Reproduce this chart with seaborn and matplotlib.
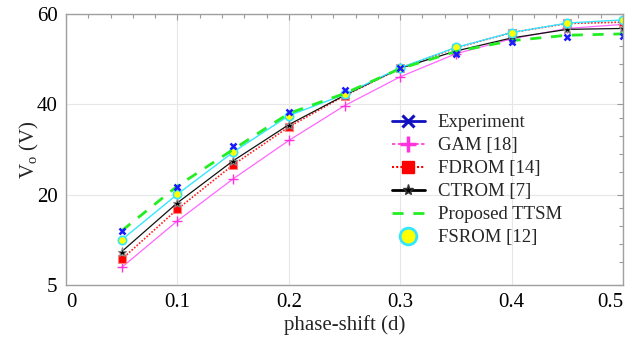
import numpy as np
import pandas as pd
import matplotlib
matplotlib.use("Agg")
import matplotlib.pyplot as plt
from matplotlib.lines import Line2D
from matplotlib.ticker import FixedLocator
import seaborn as sns

# phase-shift values and output voltage per model
phase_shift = [0.05, 0.10, 0.15, 0.20, 0.25, 0.30, 0.35, 0.40, 0.45, 0.50]
experiment = [12.0, 21.7, 30.8, 38.2, 43.1, 48.0, 51.2, 53.8, 54.8, 55.2]
gam = [3.9, 14.2, 23.5, 32.0, 39.7, 46.1, 51.2, 54.5, 56.8, 57.7]
fdrom = [5.7, 16.8, 26.6, 35.0, 41.9, 48.0, 52.5, 55.9, 57.9, 58.2]
ctrom = [7.4, 18.2, 27.5, 35.5, 42.0, 48.0, 51.8, 54.7, 56.6, 56.8]
ttsm = [12.0, 21.9, 30.0, 38.0, 42.4, 47.9, 51.7, 54.1, 55.3, 55.6]
fsrom = [10.0, 20.1, 29.4, 37.5, 42.2, 48.1, 52.6, 55.9, 58.0, 58.7]

x_ticks = [0, 0.1, 0.2, 0.3, 0.4, 0.5]
x_tick_labels = ["0", "0.1", "0.2", "0.3", "0.4", "0.5"]
y_ticks = [0, 20, 40, 60]
y_tick_labels = ["5", "20", "40", "60"]

sns.set_theme(style="white")
plt.rcParams["font.family"] = ["Liberation Serif", "DejaVu Serif"]
plt.rcParams["mathtext.fontset"] = "custom"
plt.rcParams["mathtext.rm"] = "Liberation Serif"
plt.rcParams["mathtext.it"] = "Liberation Serif:italic"

fig = plt.figure(figsize=(6.39, 3.45), dpi=100)
ax = fig.add_axes([0.1033, 0.1739, 0.9750 - 0.1033, 0.9594 - 0.1739])

df = pd.DataFrame({"d": phase_shift, "Experiment": experiment, "GAM": gam,
                   "FDROM": fdrom, "CTROM": ctrom, "TTSM": ttsm, "FSROM": fsrom})

sns.lineplot(data=df, x="d", y="GAM", ax=ax, color="#ff66ff", lw=0.9,
             marker="+", markersize=7, markeredgecolor="#ff33dd",
             markeredgewidth=1.0)
sns.lineplot(data=df, x="d", y="FDROM", ax=ax, color="#ff2020", lw=1.2,
             linestyle=(0, (1, 1)), marker="s", markersize=5.5,
             markerfacecolor="#ff0000", markeredgecolor="#ff8080",
             markeredgewidth=0.8)
sns.lineplot(data=df, x="d", y="CTROM", ax=ax, color="#111111", lw=0.9,
             marker="*", markersize=6.5, markerfacecolor="#000000",
             markeredgecolor="#888888", markeredgewidth=0.8)
sns.lineplot(data=df, x="d", y="FSROM", ax=ax, color="#33e6ff", lw=1.0,
             marker="o", markersize=6, markerfacecolor="#ffff00",
             markeredgecolor="#33e6ff", markeredgewidth=1.2)
sns.lineplot(data=df, x="d", y="TTSM", ax=ax, color="#22ee22", lw=2.0,
             linestyle=(0, (4, 3.5)))
sns.lineplot(data=df, x="d", y="Experiment", ax=ax, color="#1a1aff", lw=0,
             marker="x", markersize=5, markeredgewidth=1.8,
             markeredgecolor="#1a1aff")

ax.set_xlim(0, 0.5)
ax.set_ylim(0, 60)
ax.set_xticks(x_ticks)
ax.set_xticklabels(x_tick_labels)
ax.set_yticks(y_ticks)
ax.set_yticklabels(y_tick_labels)
ax.xaxis.set_minor_locator(FixedLocator(np.arange(0, 0.5001, 0.02)))
ax.yaxis.set_minor_locator(FixedLocator([5, 9, 13, 17, 25, 29, 33, 37,
                                         45, 49, 53, 57]))
ax.tick_params(which="both", direction="in", top=True, right=True,
               color="#999999", labelsize=15, labelcolor="black", pad=6)
ax.tick_params(which="major", length=4, width=0.8)
ax.tick_params(which="minor", length=3, width=0.8)
xl = ax.get_xticklabels()
xl[0].set_horizontalalignment("left")
xl[-1].set_horizontalalignment("right")
ax.grid(True, which="major", color="#e6e6e6", lw=0.8)
for s in ax.spines.values():
    s.set_color("#a0a0a0")
    s.set_linewidth(1.0)

ax.set_xlabel("phase-shift (d)", fontsize=15, labelpad=2)
ax.set_ylabel(r"V$_\mathrm{o}$ (V)", fontsize=15, labelpad=-3)

handles = [
    Line2D([], [], color="#1010c0", lw=2.0, marker="x", markersize=9,
           markeredgewidth=2.2),
    Line2D([], [], color="#ff33dd", lw=1.2, linestyle=(0, (2, 1.5)),
           marker="+", markersize=11, markeredgewidth=2.5),
    Line2D([], [], color="#ff0000", lw=1.5, linestyle=(0, (1, 1)),
           marker="s", markersize=8),
    Line2D([], [], color="#000000", lw=2.0, marker="*", markersize=8,
           markeredgecolor="#333333"),
    Line2D([], [], color="#22ee22", lw=2.0, linestyle=(0, (4, 3.5))),
    Line2D([], [], color="none", marker="o", markersize=12,
           markerfacecolor="#ffff00", markeredgecolor="#33e6ff",
           markeredgewidth=2.0),
]
labels = ["Experiment", "GAM [18]", "FDROM [14]", "CTROM [7]",
          "Proposed TTSM", "FSROM [12]"]
ax.legend(handles, labels, loc="lower left",
          bbox_to_anchor=(0.571, 0.116), frameon=False, fontsize=13.5,
          handlelength=1.8, handletextpad=0.65, labelspacing=0.31,
          borderaxespad=0)

fig.savefig("out.png", dpi=100)
